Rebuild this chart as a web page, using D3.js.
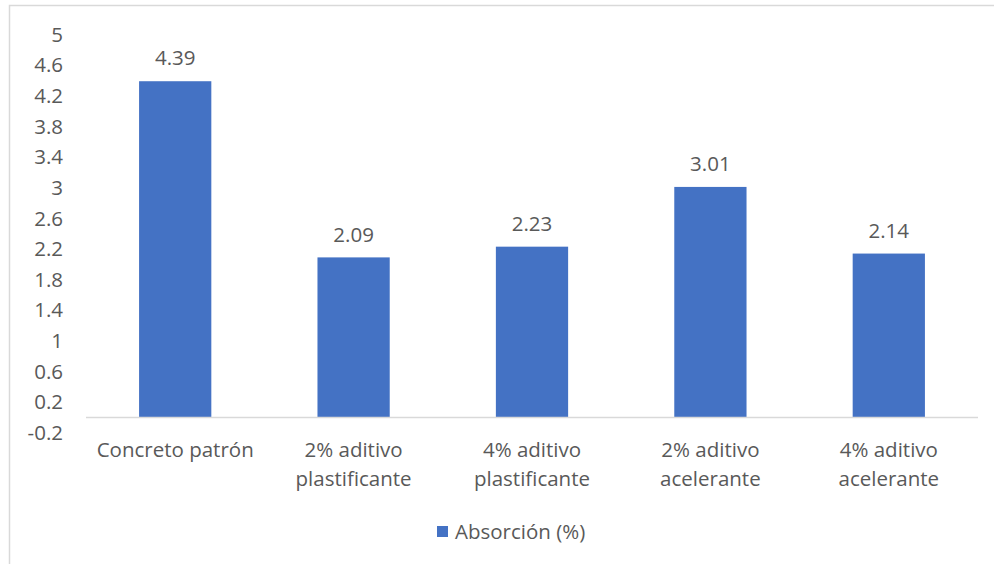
<!DOCTYPE html>
<html>
<head>
<meta charset="utf-8">
<script src="https://cdn.jsdelivr.net/npm/d3@7"></script>
<style>
  body { margin: 0; background: #fff; }
  svg text { font-family: "Open Sans", "Noto Sans", sans-serif; fill: #595959; }
</style>
</head>
<body>
<div id="chart"></div>
<script>
// Data
const categories = [
  ["Concreto patrón"],
  ["2% aditivo", "plastificante"],
  ["4% aditivo", "plastificante"],
  ["2% aditivo", "acelerante"],
  ["4% aditivo", "acelerante"]
];
const values = [4.39, 2.09, 2.23, 3.01, 2.14];
const yTicks = [-0.2, 0.2, 0.6, 1, 1.4, 1.8, 2.2, 2.6, 3, 3.4, 3.8, 4.2, 4.6, 5];
const seriesName = "Absorción (%)";

const W = 994, H = 564;
const fs = 20.5;
const svg = d3.select("#chart").append("svg")
  .attr("width", W)
  .attr("height", H);

// Chart border (extends past the right/bottom edge)
svg.append("rect")
  .attr("x", 9.5).attr("y", 5.5)
  .attr("width", W + 10).attr("height", H + 10)
  .attr("fill", "none")
  .attr("stroke", "#d9d9d9")
  .attr("stroke-width", 1.5);

// Scales
const x = d3.scaleBand()
  .domain(d3.range(values.length))
  .range([86, 978])
  .paddingInner(0.595)
  .paddingOuter(0.2975);

const y = d3.scaleLinear()
  .domain([-0.2, 5])
  .range([432.8, 34.5]);

// Y tick labels
svg.append("g")
  .selectAll("text")
  .data(yTicks)
  .join("text")
  .attr("x", 63)
  .attr("y", d => y(d))
  .attr("dy", "0.35em")
  .attr("text-anchor", "end")
  .attr("font-size", fs)
  .text(d => d);

// Bars
svg.append("g")
  .selectAll("rect")
  .data(values)
  .join("rect")
  .attr("x", (d, i) => x(i))
  .attr("y", d => y(d))
  .attr("width", x.bandwidth())
  .attr("height", d => y(0) - y(d))
  .attr("fill", "#4472c4");

// Zero line
svg.append("line")
  .attr("x1", 86).attr("x2", 978)
  .attr("y1", y(0)).attr("y2", y(0))
  .attr("stroke", "#d9d9d9")
  .attr("stroke-width", 1.5);

// Data labels
svg.append("g")
  .selectAll("text")
  .data(values)
  .join("text")
  .attr("x", (d, i) => x(i) + x.bandwidth() / 2)
  .attr("y", d => y(d) - 23)
  .attr("dy", "0.35em")
  .attr("text-anchor", "middle")
  .attr("font-size", fs)
  .text(d => d.toFixed(2));

// Category labels
const cat = svg.append("g")
  .selectAll("text")
  .data(categories)
  .join("text")
  .attr("text-anchor", "middle")
  .attr("font-size", fs)
  .attr("x", (d, i) => x(i) + x.bandwidth() / 2)
  .attr("y", 450);

cat.selectAll("tspan")
  .data(d => d)
  .join("tspan")
  .attr("x", function () { return d3.select(this.parentNode).attr("x"); })
  .attr("dy", (d, i) => i === 0 ? "0.35em" : 29)
  .text(d => d);

// Legend
const legend = svg.append("g").attr("transform", "translate(437,526)");
legend.append("rect")
  .attr("width", 11).attr("height", 11)
  .attr("fill", "#4472c4");
legend.append("text")
  .attr("x", 18).attr("y", 6)
  .attr("dy", "0.35em")
  .attr("font-size", fs)
  .text(seriesName);
</script>
</body>
</html>
